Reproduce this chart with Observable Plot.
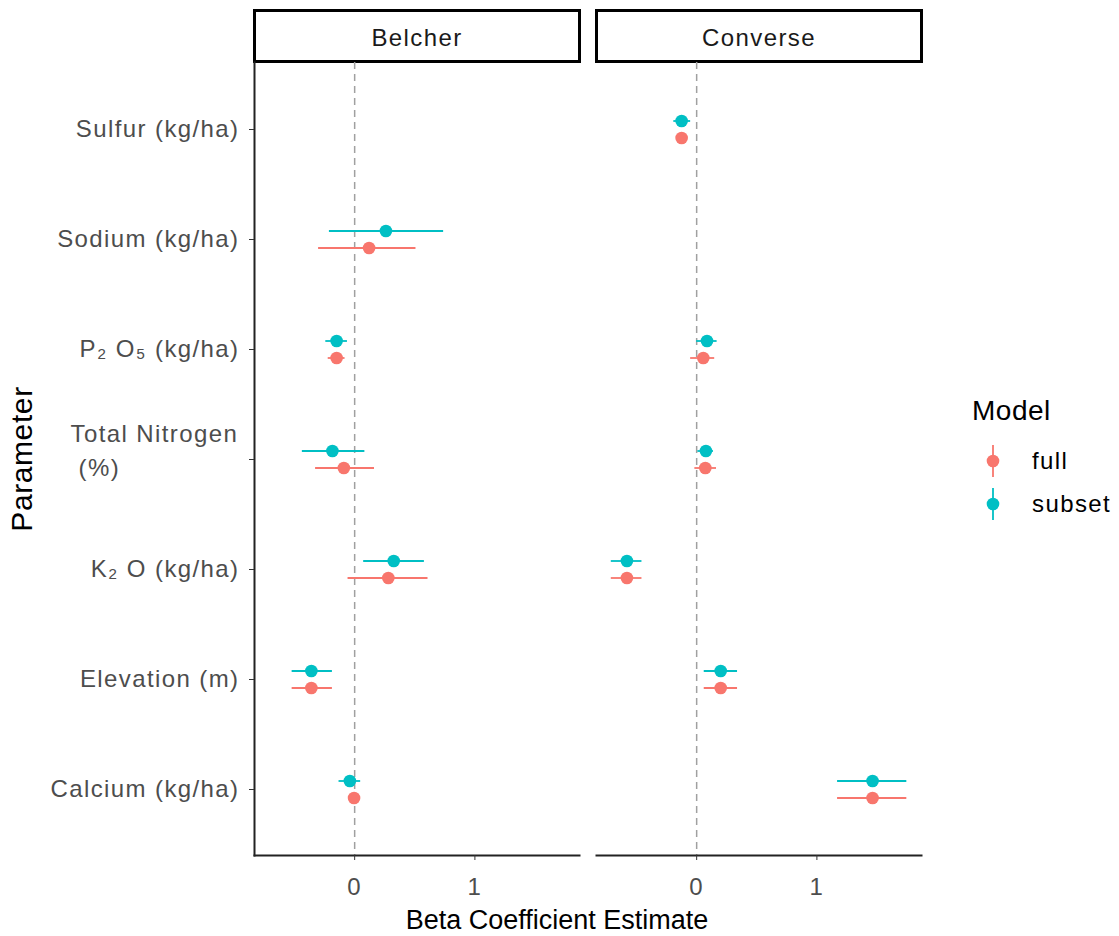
<!DOCTYPE html>
<html>
<head>
<meta charset="utf-8">
<script src="https://cdn.jsdelivr.net/npm/d3@7"></script>
<script src="https://cdn.jsdelivr.net/npm/@observablehq/plot@0.6"></script>
<style>
html, body { margin: 0; padding: 0; background: #fff; }
#chart { position: relative; width: 1119px; height: 936px; }
.chart text { letter-spacing: 1.4px; }
.chart g[aria-label="y-axis label"] text { letter-spacing: 0.6px; }
</style>
</head>
<body>
<div id="chart"></div>
<script>
// ---- data ----
const sites = ["Belcher", "Converse"];
const models = ["full", "subset"];
const modelColors = ["#F8766D", "#00BFC4"];
const parameters = ["Sulfur", "Sodium", "P2O5", "Total Nitrogen", "K2O", "Elevation", "Calcium"];
const parameterLabels = ["Sulfur (kg/ha)", "Sodium (kg/ha)", "P\u2082 O\u2085 (kg/ha)", "Total Nitrogen\n\u00A0(%)", "K\u2082 O (kg/ha)", "Elevation (m)", "Calcium (kg/ha)"];
const xTicks = [0, 1];
const xTitle = "Beta Coefficient Estimate";
const yTitle = "Parameter";

// Belcher
const belcherFullEst   = [null, 0.12, -0.15, -0.09, 0.28, -0.36, -0.005];
const belcherFullLow   = [null, -0.30, -0.22, -0.325, -0.055, -0.52, -0.025];
const belcherFullHigh  = [null, 0.51, -0.08, 0.165, 0.61, -0.185, 0.015];
const belcherSubEst    = [null, 0.26, -0.15, -0.185, 0.325, -0.36, -0.04];
const belcherSubLow    = [null, -0.21, -0.24, -0.435, 0.075, -0.52, -0.13];
const belcherSubHigh   = [null, 0.74, -0.06, 0.085, 0.58, -0.185, 0.05];
// Converse
const converseFullEst  = [-0.125, null, 0.055, 0.072, -0.58, 0.20, 1.463];
const converseFullLow  = [-0.165, null, -0.05, -0.015, -0.71, 0.063, 1.172];
const converseFullHigh = [-0.085, null, 0.15, 0.165, -0.455, 0.34, 1.748];
const converseSubEst   = [-0.125, null, 0.086, 0.077, -0.58, 0.20, 1.463];
const converseSubLow   = [-0.19, null, 0.0, 0.01, -0.71, 0.063, 1.172];
const converseSubHigh  = [-0.05, null, 0.17, 0.14, -0.455, 0.34, 1.748];

const series = [
  {site: "Belcher", model: "full", est: belcherFullEst, lo: belcherFullLow, hi: belcherFullHigh},
  {site: "Belcher", model: "subset", est: belcherSubEst, lo: belcherSubLow, hi: belcherSubHigh},
  {site: "Converse", model: "full", est: converseFullEst, lo: converseFullLow, hi: converseFullHigh},
  {site: "Converse", model: "subset", est: converseSubEst, lo: converseSubLow, hi: converseSubHigh}
];
const rows = series.flatMap(s => parameters.map((p, i) => ({
  site: s.site, model: s.model, parameter: p, est: s.est[i], lo: s.lo[i], hi: s.hi[i]
}))).filter(d => d.est != null);

const labelOf = p => parameterLabels[parameters.indexOf(p)];
const dodge = {full: 8.5, subset: -8.5};

const plot = Plot.plot({
  width: 1119,
  height: 936,
  marginLeft: 254,
  marginRight: 198,
  marginTop: 62,
  marginBottom: 81,
  className: "chart",
  style: {fontFamily: "'Liberation Sans', Arial, sans-serif", fontSize: "24px", color: "#4D4D4D", background: "#fff", overflow: "visible"},
  x: {domain: [-0.833, 1.87]},
  y: {type: "point", domain: parameters, padding: 0.6},
  fx: {domain: sites, paddingInner: 0.05, paddingOuter: 0},
  color: {domain: models, range: modelColors},
  marks: [
    // strip boxes
    Plot.frame({fill: "#fff", stroke: "#000", strokeWidth: 3, insetTop: -52, insetBottom: 794}),
    Plot.axisFx({anchor: "top", tickSize: 0, tickPadding: 17, label: null, fill: "#1A1A1A"}),
    // reference line
    Plot.ruleX([0], {stroke: "#a0a0a0", strokeWidth: 1.5, strokeDasharray: "7,5"}),
    // axis lines
    Plot.frame({anchor: "bottom", stroke: "#222", strokeWidth: 2}),
    Plot.frame({anchor: "left", facetAnchor: "left", stroke: "#222", strokeWidth: 2}),
    // intervals
    ...models.map(m => Plot.ruleY(rows.filter(d => d.model === m), {
      fx: "site", y: "parameter", x1: "lo", x2: "hi", stroke: "model", strokeWidth: 1.8, dy: dodge[m]
    })),
    // estimates
    ...models.map(m => Plot.dot(rows.filter(d => d.model === m), {
      fx: "site", x: "est", y: "parameter", fill: "model", r: 6.3, dy: dodge[m]
    })),
    // axes
    Plot.axisX({ticks: xTicks, tickFormat: d => String(d), tickSize: 5, tickPadding: 17, label: null, stroke: "#333", fill: "#4D4D4D"}),
    Plot.text([xTitle], {facet: "super", frameAnchor: "bottom", lineAnchor: "middle", dy: 65, dx: -31, fontSize: 27, fill: "#000"}),
    Plot.axisY({tickSize: 5, tickPadding: 10, label: null, stroke: "#333", fill: "#4D4D4D",
      tickFormat: p => p === "Total Nitrogen" ? "" : labelOf(p)}),
    Plot.text([{site: "Belcher", parameter: "Total Nitrogen"}], {
      fx: "site", y: "parameter", text: d => labelOf(d.parameter), frameAnchor: "left",
      textAnchor: "start", dx: -184, dy: -11, lineHeight: 1.4, fill: "#4D4D4D"
    }),
    Plot.axisY({ticks: [], label: yTitle, labelArrow: "none", labelAnchor: "center", labelOffset: 244, fontSize: 30, fill: "#000"})
  ]
});

document.getElementById("chart").appendChild(plot);

const svg = d3.select(plot);
// the x title uses normal letter spacing
svg.selectAll("text").filter(function() { return this.textContent === xTitle; }).style("letter-spacing", "0px");

// legend
const color = plot.scale("color");
const lg = svg.append("g").attr("transform", "translate(972,0)")
  .attr("font-family", "'Liberation Sans', Arial, sans-serif").attr("text-anchor", "start");
lg.append("text").attr("x", 0).attr("y", 420).attr("font-size", 28).attr("fill", "#000").style("letter-spacing", "0.5px").text("Model");
models.forEach((m, i) => {
  const cy = 461 + i * 43;
  const c = color.apply(m);
  lg.append("line").attr("x1", 21).attr("x2", 21).attr("y1", cy - 16).attr("y2", cy + 16).attr("stroke", c).attr("stroke-width", 1.8);
  lg.append("circle").attr("cx", 21).attr("cy", cy).attr("r", 6.3).attr("fill", c);
  lg.append("text").attr("x", 60).attr("y", cy).attr("dy", "0.35em").attr("font-size", 24).attr("fill", "#000").text(m);
});
</script>
</body>
</html>
